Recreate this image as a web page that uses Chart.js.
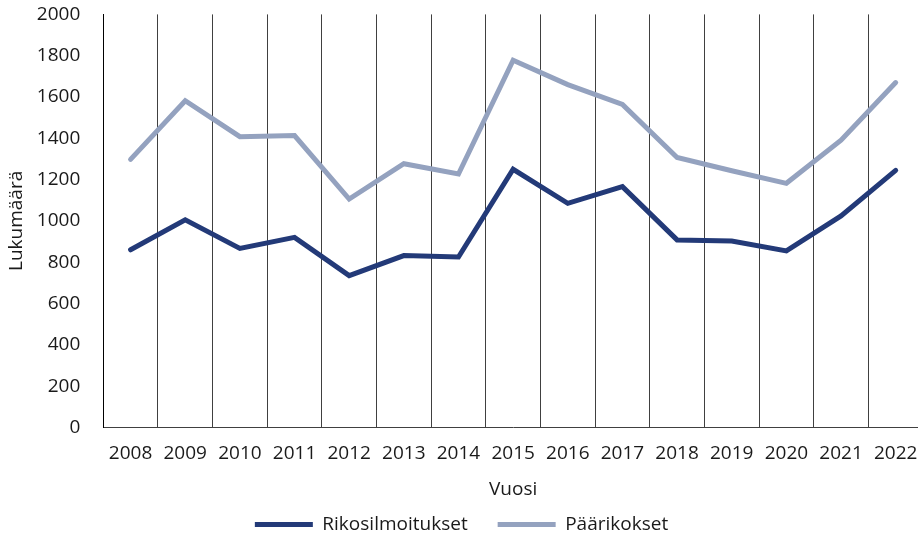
<!DOCTYPE html>
<html lang="fi">
<head>
    <meta charset="UTF-8">
    <title>Rikosilmoitukset ja päärikokset</title>
    <script src="https://cdn.jsdelivr.net/npm/chart.js"></script>
    <style>
        body {
            margin: 0;
            overflow: hidden;
            background: #ffffff;
        }
        #wrap {
            position: relative;
            width: 926px;
            height: 534px;
        }
    </style>
</head>
<body>
    <div id="wrap">
        <canvas id="chart"></canvas>
    </div>

    <script>
        // Data
        const years = ["2008", "2009", "2010", "2011", "2012", "2013", "2014", "2015",
                       "2016", "2017", "2018", "2019", "2020", "2021", "2022"];
        const rikosilmoitukset = [860, 1005, 867, 920, 735, 832, 825, 1250, 1085, 1166, 908, 903, 855, 1024, 1245];
        const paarikokset = [1298, 1582, 1408, 1413, 1106, 1277, 1227, 1778, 1660, 1564, 1307, 1243, 1182, 1391, 1670];
        const yTicks = [0, 200, 400, 600, 800, 1000, 1200, 1400, 1600, 1800, 2000];

        Chart.defaults.font.family = "'Open Sans', sans-serif";
        Chart.defaults.font.size = 19;
        Chart.defaults.color = "#1a1a1a";

        const ctx = document.getElementById("chart").getContext("2d");
        new Chart(ctx, {
            type: "line",
            data: {
                labels: years,
                datasets: [{
                    label: "Rikosilmoitukset",
                    data: rikosilmoitukset,
                    borderColor: "#233a78",
                    backgroundColor: "#233a78",
                    borderWidth: 5,
                    borderCapStyle: "round",
                    borderJoinStyle: "miter",
                    pointRadius: 0,
                    tension: 0
                }, {
                    label: "Päärikokset",
                    data: paarikokset,
                    borderColor: "#94a2bf",
                    backgroundColor: "#94a2bf",
                    borderWidth: 5,
                    borderCapStyle: "round",
                    borderJoinStyle: "miter",
                    pointRadius: 0,
                    tension: 0
                }]
            },
            options: {
                responsive: true,
                maintainAspectRatio: false,
                animation: false,
                layout: {
                    padding: {top: -3.5, right: 3, left: 0, bottom: -10}
                },
                plugins: {
                    tooltip: {enabled: false},
                    legend: {
                        position: "bottom",
                        labels: {
                            usePointStyle: true,
                            pointStyle: "line",
                            pointStyleWidth: 58,
                            padding: 30,
                            color: "#1a1a1a"
                        }
                    }
                },
                scales: {
                    x: {
                        offset: true,
                        grid: {
                            offset: true,
                            display: true,
                            drawTicks: true,
                            tickLength: 10,
                            tickColor: "transparent",
                            color: "#404040",
                            lineWidth: 1
                        },
                        border: {display: true, color: "#404040"},
                        ticks: {padding: 5, maxRotation: 0, autoSkip: false},
                        title: {
                            display: true,
                            text: "Vuosi",
                            padding: {top: 8, bottom: -16}
                        }
                    },
                    y: {
                        min: 0,
                        max: 2000,
                        afterBuildTicks: axis => {
                            axis.ticks = yTicks.map(v => ({value: v}));
                        },
                        grid: {
                            display: true,
                            color: "transparent",
                            drawTicks: true,
                            tickLength: 20
                        },
                        border: {display: true, color: "#000000"},
                        ticks: {
                            padding: 3,
                            callback: v => String(v)
                        },
                        title: {
                            display: true,
                            text: "Lukumäärä",
                            padding: {top: 5, bottom: 6}
                        }
                    }
                }
            }
        });
    </script>
</body>
</html>
